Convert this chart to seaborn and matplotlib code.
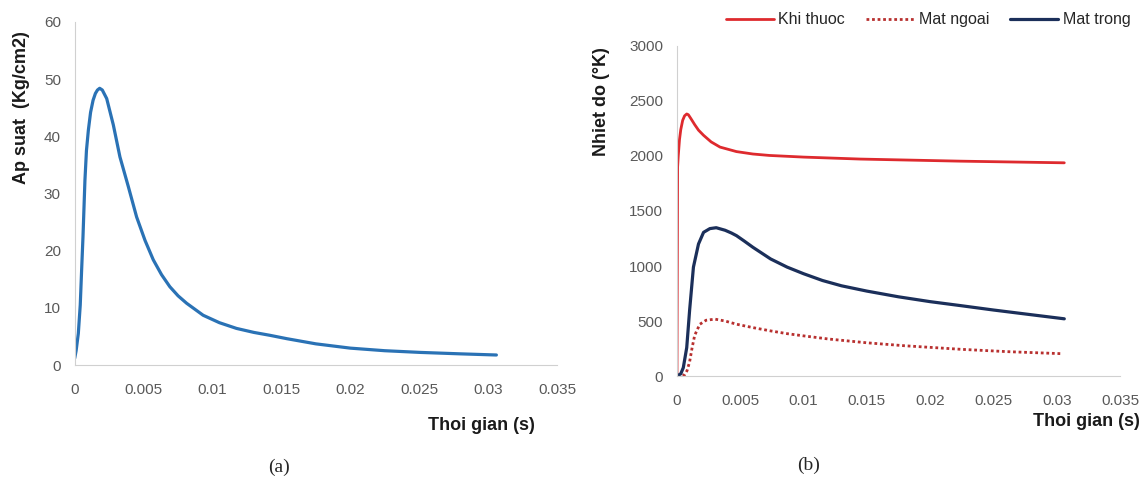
import numpy as np
import pandas as pd
import matplotlib
matplotlib.use("Agg")
import matplotlib.pyplot as plt
import seaborn as sns

# --- data ---
# (a) pressure vs time
t_p = [0, 0.0001, 0.00026, 0.0004, 0.0005, 0.0006, 0.00074, 0.00085, 0.00099, 0.00115,
       0.00133, 0.0015, 0.00165, 0.00181, 0.002, 0.00232, 0.0028, 0.00328, 0.00389, 0.00449,
       0.0051, 0.0057, 0.0063, 0.0069, 0.0075, 0.00812, 0.00932, 0.0105, 0.01174, 0.013,
       0.01415, 0.0154, 0.0175, 0.02, 0.0225, 0.0251, 0.028, 0.0306]
ap_suat = [1.2, 2.5, 5.5, 10.5, 16.6, 22.5, 32.3, 37.5, 41.1, 44.2,
           46.3, 47.5, 48.1, 48.4, 48.1, 46.6, 42, 36.4, 31.2, 25.9,
           21.8, 18.4, 15.8, 13.7, 12.1, 10.8, 8.7, 7.4, 6.4, 5.7,
           5.2, 4.6, 3.7, 2.95, 2.5, 2.2, 1.95, 1.75]

# (b) temperatures vs time
t_k = [0, 0.00005, 0.0001, 0.0002, 0.0003, 0.00045, 0.0006, 0.00077, 0.0009, 0.0011,
       0.0014, 0.0017, 0.0021, 0.0027, 0.0034, 0.0047, 0.006, 0.0073, 0.01, 0.0145,
       0.0224, 0.0306]
khi_thuoc = [0, 1900, 2000, 2150, 2240, 2324, 2365, 2382, 2375, 2340,
             2285, 2235, 2188, 2128, 2081, 2040, 2018, 2005, 1990, 1972,
             1953, 1938]

t_n = [0, 0.0006, 0.0008, 0.001, 0.0012, 0.0014, 0.0018, 0.0023, 0.003, 0.0038,
       0.0047, 0.006, 0.0074, 0.0087, 0.01, 0.012, 0.015, 0.018, 0.0224, 0.026, 0.0304]
mat_ngoai = [0, 10, 50, 130, 260, 370, 470, 507, 517, 500,
             471, 440, 410, 385, 365, 336, 302, 275, 243, 222, 203]

t_t = [0, 0.0003, 0.0005, 0.00077, 0.001, 0.0013, 0.0017, 0.0021, 0.0026, 0.0031,
       0.0038, 0.0043, 0.0047, 0.0053, 0.006, 0.0074, 0.0087, 0.01, 0.0115, 0.013,
       0.015, 0.0175, 0.02, 0.0224, 0.025, 0.028, 0.0306]
mat_trong = [0, 20, 76, 258, 600, 990, 1200, 1306, 1340, 1348,
             1325, 1300, 1276, 1228, 1170, 1064, 990, 930, 868, 820,
             772, 720, 676, 640, 600, 557, 520]

xticks = [0, 0.005, 0.01, 0.015, 0.02, 0.025, 0.03, 0.035]
xticklabels = ["0", "0.005", "0.01", "0.015", "0.02", "0.025", "0.03", "0.035"]

sns.set_style("white")
plt.rcParams["font.family"] = ["Liberation Sans", "DejaVu Sans"]

fig = plt.figure(figsize=(11.48, 4.83), dpi=100)
ax1 = fig.add_axes([0.0651, 0.2443, 0.4201, 0.7102])
ax2 = fig.add_axes([0.5897, 0.2215, 0.3859, 0.6833])

grey = "#d0d0d0"
tick_col = "#595959"

df_p = pd.DataFrame({"t": t_p, "p": ap_suat})
sns.lineplot(data=df_p, x="t", y="p", ax=ax1, color="#2a72b5", linewidth=2.3)

sns.lineplot(x=t_k, y=khi_thuoc, ax=ax2, color="#de2a2e", linewidth=2.0,
             label="Khi thuoc", sort=False)
sns.lineplot(x=t_n, y=mat_ngoai, ax=ax2, color="#b8302f", linewidth=2.0,
             linestyle=(0, (1, 1)), label="Mat ngoai", sort=False)
sns.lineplot(x=t_t, y=mat_trong, ax=ax2, color="#1b2f5a", linewidth=2.3,
             label="Mat trong", sort=False)

for ax, ymax, ystep in [(ax1, 60, 10), (ax2, 3000, 500)]:
    ax.set_xlim(0, 0.035)
    ax.set_ylim(0, ymax)
    ax.set_xticks(xticks)
    ax.set_xticklabels(xticklabels)
    ax.set_yticks(np.arange(0, ymax + 1, ystep))
    ax.tick_params(axis="both", length=0, labelsize=11, colors=tick_col)
    ax.tick_params(axis="x", pad=13)
    ax.tick_params(axis="y", pad=10)
    for s in ["top", "right"]:
        ax.spines[s].set_visible(False)
    ax.spines["left"].set_color(grey)
    ax.spines["bottom"].set_color(grey)
    ax.set_xlabel("")
    ax.set_ylabel("")

lab_font = dict(fontsize=13, fontweight="bold", color="#1a1a1a")
fig.text(0.4194, 0.120, "Thoi gian (s)", ha="center", va="center", **lab_font)
fig.text(0.946, 0.127, "Thoi gian (s)", ha="center", va="center", **lab_font)
fig.text(0.0183, 0.778, "Ap suat  (Kg/cm2)", rotation=90, ha="center", va="center", **lab_font)
fig.text(0.524, 0.789, "Nhiet do (°K)", rotation=90, ha="center", va="center", **lab_font)

ax2.legend(loc="center", bbox_to_anchor=(928 / 1148, 0.9586), bbox_transform=fig.transFigure,
           ncol=3, frameon=False, fontsize=11.5, handlelength=3.0, columnspacing=1.3,
           handletextpad=0.3, borderaxespad=0, borderpad=0)

fig.text(0.243, 0.033, "(a)", ha="center", va="center", fontsize=14, family=["Liberation Serif"])
fig.text(0.704, 0.037, "(b)", ha="center", va="center", fontsize=14, family=["Liberation Serif"])

fig.savefig("out.png", dpi=100)
